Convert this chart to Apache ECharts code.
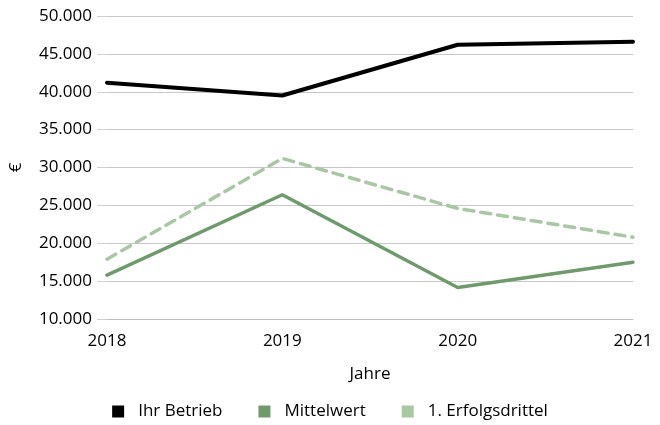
<!DOCTYPE html>
<html><head><meta charset="utf-8">
<script src="https://cdn.jsdelivr.net/npm/echarts@6/dist/echarts.min.js"></script>
<style>html,body{margin:0;padding:0;background:#fff}#c{width:660px;height:425px}</style>
</head><body><div id="c"></div>
<script>
const categories = ['2018','2019','2020','2021'];
const ihrBetrieb = [41200, 39500, 46200, 46600];
const mittelwert = [15800, 26400, 14150, 17500];
const erfolgsdrittel = [17900, 31200, 24600, 20800];
const seriesNames = ['Ihr Betrieb','Mittelwert','1. Erfolgsdrittel'];
const yTicks = {min: 10000, max: 50000, interval: 5000};

const font = '"Open Sans", "Noto Sans", sans-serif';
const chart = echarts.init(document.getElementById('c'));
const fmt = v => String(v).replace(/\B(?=(\d{3})+(?!\d))/g, '.');
chart.setOption({
  animation: false,
  textStyle: {fontFamily: font},
  grid: {left: 105, right: 27, top: 16, bottom: 106},
  legend: {
    bottom: 0, left: 'center', itemWidth: 12, itemHeight: 12, itemGap: 36,
    icon: 'rect',
    textStyle: {fontFamily: font, fontSize: 17, color: '#000', padding: [0, 0, 0, 9]},
    data: seriesNames.map(n => ({name: n, icon: 'rect'}))
  },
  xAxis: {
    type: 'category', data: categories, boundaryGap: false,
    name: 'Jahre', nameLocation: 'middle', nameGap: 47,
    nameTextStyle: {fontFamily: font, fontSize: 17, color: '#000'},
    axisLine: {lineStyle: {color: '#bfbfbf', width: 1}},
    axisTick: {show: false},
    axisLabel: {fontFamily: font, fontSize: 17, color: '#000', margin: 14}
  },
  yAxis: {
    type: 'value', min: yTicks.min, max: yTicks.max, interval: yTicks.interval,
    name: '€', nameLocation: 'middle', nameGap: 82, nameRotate: 90,
    nameTextStyle: {fontFamily: font, fontSize: 17, color: '#000'},
    axisLine: {show: false},
    axisTick: {show: true, length: 10, lineStyle: {color: '#d0d0d0'}},
    splitLine: {lineStyle: {color: '#c8c8c8', width: 1}},
    axisLabel: {fontFamily: font, fontSize: 17, color: '#000', margin: 15, formatter: fmt}
  },
  series: [
    {name: seriesNames[0], type: 'line', data: ihrBetrieb, symbol: 'none',
     itemStyle: {color: '#000'}, lineStyle: {color: '#000', width: 4, cap: 'round'}},
    {name: seriesNames[1], type: 'line', data: mittelwert, symbol: 'none',
     itemStyle: {color: '#6f9a6b'}, lineStyle: {color: '#6f9a6b', width: 3.5, cap: 'round'}},
    {name: seriesNames[2], type: 'line', data: erfolgsdrittel, symbol: 'none',
     itemStyle: {color: '#a8c7a3'}, lineStyle: {color: '#a8c7a3', width: 3.5, type: [10, 7], cap: 'round'}}
  ]
});
</script></body></html>
